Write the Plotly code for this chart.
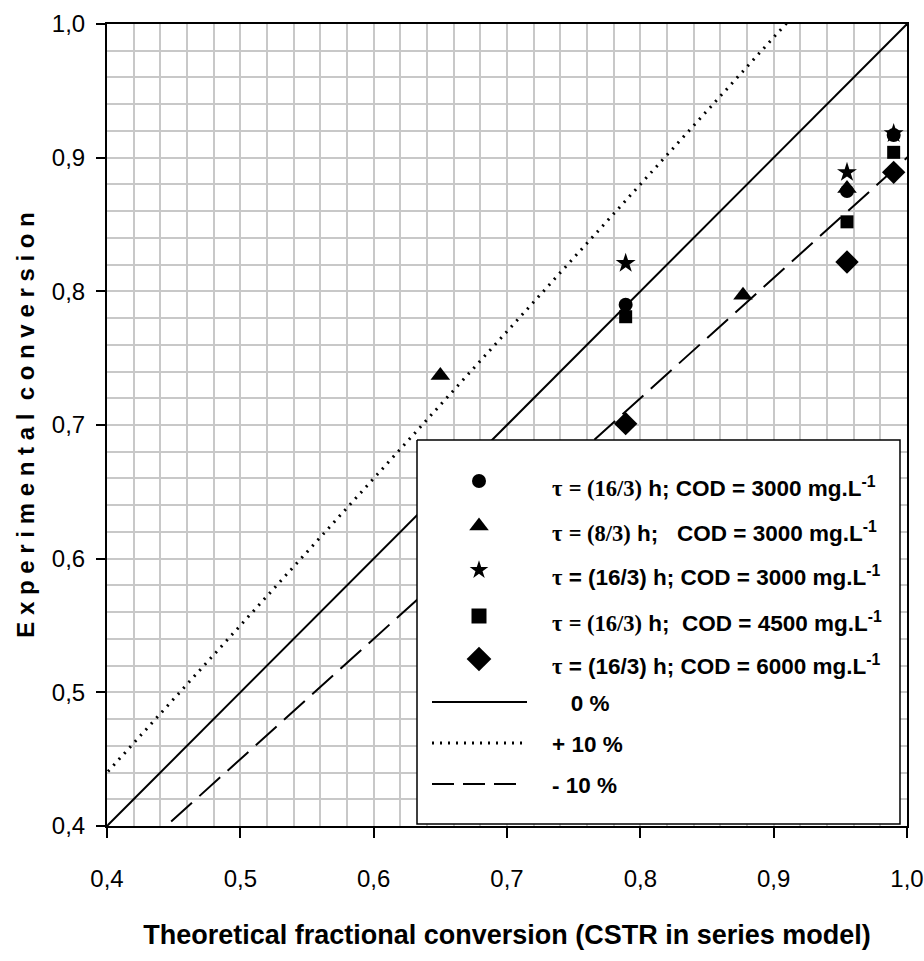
import plotly.graph_objects as go

# Measured points: theoretical (CSTR-in-series) vs experimental conversion
circle_x = [0.789, 0.955, 0.990]
circle_y = [0.790, 0.875, 0.917]

triangle_x = [0.650, 0.877, 0.955]
triangle_y = [0.737, 0.797, 0.877]

star_x = [0.789, 0.955, 0.990]
star_y = [0.821, 0.889, 0.918]

square_x = [0.789, 0.955, 0.990]
square_y = [0.781, 0.852, 0.904]

diamond_x = [0.789, 0.955, 0.990]
diamond_y = [0.701, 0.822, 0.889]

# Reference lines: exact agreement and +/-10 % deviation
line_x = [0.3, 1.1]
deviations = [0.0, 0.10, -0.10]
deviation_labels = ["&nbsp;&nbsp;&nbsp;0 %", "+ 10 %", "- 10 %"]

SANS = "Liberation Sans, Arial, sans-serif"
SERIF = "Liberation Serif, Times New Roman, serif"
TAU = f'<span style="font-family:{SERIF}">τ</span>'


def series_label(tau_part, cod, serif=True, gap=" "):
    part = f'<span style="font-family:{SERIF}">= {tau_part}</span>' if serif else f"= {tau_part}"
    return f"<b>{TAU} {part} h;{gap}COD = {cod} mg.L<sup>-1</sup></b>"


# Canvas geometry (pixels) used for the hand-built key box
W, H = 924, 961
M_L, M_R, M_T, M_B = 107, 17, 24, 135
PW, PH = W - M_L - M_R, H - M_T - M_B


def fx(px):
    return (px - M_L) / PW


def fy(py):
    return (H - M_B - py) / PH


LINE_STYLES = [
    dict(dash="solid", width=2),
    dict(dash="2px,6px", width=3),
    dict(dash="28px,10px", width=2),
]
KEY_DASHES = ["solid", "2px,6px", "22px,9px"]

fig = go.Figure()

for dev, st in zip(deviations, LINE_STYLES):
    fig.add_trace(go.Scatter(
        x=line_x, y=[v * (1 + dev) for v in line_x], mode="lines",
        line=dict(color="black", width=st["width"], dash=st["dash"]),
        hoverinfo="skip", showlegend=False))

# (x, y, symbol, size, key size, label); drawn in list order
marker_series = [
    (circle_x, circle_y, "circle", 14, 14, series_label("(16/3)", "3000")),
    (triangle_x, triangle_y, "triangle-up", 17, 17, series_label("(8/3)", "3000", gap="&nbsp;&nbsp; ")),
    (star_x, star_y, "star", 15, 14, series_label("(16/3)", "3000", serif=False)),
    (square_x, square_y, "square", 13, 15, series_label("(16/3)", "4500", gap="&nbsp; ")),
    (diamond_x, diamond_y, "diamond", 18, 19, series_label("(16/3)", "6000", serif=False)),
]
draw_order = [1, 2, 0, 3, 4]
for i in draw_order:
    xs, ys, sym, sz, _, _ = marker_series[i]
    fig.add_trace(go.Scatter(
        x=xs, y=ys, mode="markers",
        marker=dict(symbol=sym, size=sz, color="black", line=dict(width=0)),
        showlegend=False))

# ---- key box, drawn on an overlay subplot spanning the plot area ----
BOX = dict(left=417, right=900, top=440, bottom=824)
ROW_Y = [481, 526, 570, 616, 659, 702, 743, 784]
SYM_X = 479
SAMPLE_X = (432, 527)
TEXT_X = 550
TEXT_DY = 6

fig.add_trace(go.Scatter(
    x=[fx(BOX["left"]), fx(BOX["right"]), fx(BOX["right"]), fx(BOX["left"]), fx(BOX["left"])],
    y=[fy(BOX["top"]), fy(BOX["top"]), fy(BOX["bottom"]), fy(BOX["bottom"]), fy(BOX["top"])],
    mode="lines", fill="toself", fillcolor="white",
    line=dict(color="black", width=1.5),
    xaxis="x2", yaxis="y2", hoverinfo="skip", showlegend=False))

for k, (_, _, sym, _, ksz, _) in enumerate(marker_series):
    fig.add_trace(go.Scatter(
        x=[fx(SYM_X)], y=[fy(ROW_Y[k])], mode="markers",
        marker=dict(symbol=sym, size=ksz, color="black", line=dict(width=0)),
        xaxis="x2", yaxis="y2", hoverinfo="skip", showlegend=False))

for k, (st, kd) in enumerate(zip(LINE_STYLES, KEY_DASHES)):
    r = ROW_Y[len(marker_series) + k]
    fig.add_trace(go.Scatter(
        x=[fx(SAMPLE_X[0]), fx(SAMPLE_X[1] if k < 2 else SAMPLE_X[1] - 9)],
        y=[fy(r), fy(r)], mode="lines",
        line=dict(color="black", width=st["width"], dash=kd),
        xaxis="x2", yaxis="y2", hoverinfo="skip", showlegend=False))

key_font = dict(family=SANS, size=22.5, color="black")
annotations = []
for k, (*_, label) in enumerate(marker_series):
    annotations.append(dict(
        x=fx(TEXT_X), y=fy(ROW_Y[k] + TEXT_DY), xref="paper", yref="paper",
        text=label, showarrow=False, xanchor="left", yanchor="middle", font=key_font))
for k, lab in enumerate(deviation_labels):
    r = ROW_Y[len(marker_series) + k]
    annotations.append(dict(
        x=fx(TEXT_X), y=fy(r + 1), xref="paper", yref="paper",
        text=f"<b>{lab}</b>", showarrow=False, xanchor="left", yanchor="middle", font=key_font))

axis_common = dict(
    range=[0.4, 1.0], dtick=0.1, tick0=0.4, tickformat=".1f",
    showline=True, linecolor="black", linewidth=2, mirror=True,
    ticks="outside", tickwidth=2, tickcolor="black",
    showgrid=True, gridcolor="#c8c8c8", gridwidth=2,
    minor=dict(dtick=0.02, showgrid=True, gridcolor="#c8c8c8", gridwidth=2, ticks=""),
    zeroline=False, automargin=False,
    tickfont=dict(family=SANS, size=24, color="black"),
)

ytitle = "  ".join(" ".join(w) for w in "Experimental conversion".split())

fig.update_layout(
    width=W, height=H,
    margin=dict(l=M_L, r=M_R, t=M_T, b=M_B),
    paper_bgcolor="white", plot_bgcolor="white",
    separators=",.",
    showlegend=False,
    xaxis=dict(axis_common, ticklen=10, ticklabelstandoff=20, title=dict(
        text="<b>Theoretical fractional conversion (CSTR in series model)</b>",
        font=dict(family=SANS, size=27, color="black"), standoff=34)),
    yaxis=dict(axis_common, ticklen=9, ticklabelstandoff=6, title=dict(
        text=f"<b>{ytitle}</b>",
        font=dict(family=SANS, size=24, color="black"), standoff=10)),
    xaxis2=dict(overlaying="x", anchor="y2", range=[0, 1], visible=False, fixedrange=True),
    yaxis2=dict(overlaying="y", anchor="x2", range=[0, 1], visible=False, fixedrange=True),
    annotations=annotations,
)

fig.write_html("out.html")
